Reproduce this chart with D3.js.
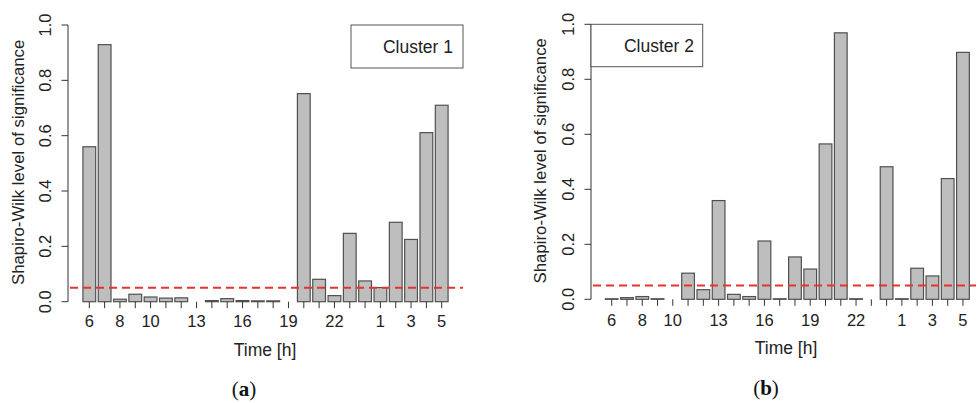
<!DOCTYPE html>
<html>
<head>
<meta charset="utf-8">
<script src="https://cdn.jsdelivr.net/npm/d3@7"></script>
<style>
  html, body { margin: 0; padding: 0; background: #fff; }
  svg { display: block; font-family: "Liberation Sans", Arial, sans-serif; }
</style>
</head>
<body>
<svg id="chart" width="977" height="403"></svg>
<script>
// ---- data ----
const hours = ["6","7","8","9","10","11","12","13","14","15","16","17","18","19","20","21","22","23","0","1","2","3","4","5"];
const cluster1Values = [0.560, 0.929, 0.009, 0.027, 0.017, 0.013, 0.014, null, 0.004, 0.011, 0.004, 0.003, 0.003, null,
                        0.752, 0.081, 0.022, 0.247, 0.075, 0.051, 0.287, 0.225, 0.611, 0.710];
const cluster2Values = [0.002, 0.006, 0.010, 0.002, null, 0.095, 0.035, 0.359, 0.018, 0.010, 0.212, 0.002, 0.154, 0.110,
                        0.565, 0.969, 0.002, null, 0.482, 0.002, 0.113, 0.085, 0.439, 0.898];
const xTickLabels = ["6","8","10","13","16","19","22","1","3","5"];
const yTicks = [0, 0.2, 0.4, 0.6, 0.8, 1.0];
const threshold = [0.05];
const legendLabels = ["Cluster 1", "Cluster 2"];
const panelLabels = ["a", "b"];

const svg = d3.select("#chart");

const panels = [
  { values: cluster1Values, legend: legendLabels[0], tag: panelLabels[0],
    axisX: 68, plotRight: 463, y0: 301.7, y1: 25, bandRange: [81.64, 449.36],
    legendBox: [351, 463, 25, 68], legendAnchor: "end", legendTextX: 453,
    yLabelX: 24, xTitleX: 265, xTitleY: 356, tickLabelY: 327, tagX: 244, tagY: 396 },
  { values: cluster2Values, legend: legendLabels[1], tag: panelLabels[1],
    axisX: 591, plotRight: 976, y0: 299.3, y1: 24.3, bandRange: [604.07, 970.6],
    legendBox: [591, 702.7, 24.3, 66.7], legendAnchor: "end", legendTextX: 694,
    yLabelX: 546, xTitleX: 786, xTitleY: 354, tickLabelY: 325.5, tagX: 766, tagY: 395 }
];

panels.forEach(p => {
  const g = svg.append("g");
  const x = d3.scaleBand().domain(hours).range(p.bandRange).paddingInner(1/6).paddingOuter(1/12);
  const y = d3.scaleLinear().domain([0, 1]).range([p.y0, p.y1]);
  const data = hours.map((h, i) => ({ h, v: p.values[i] }));

  // bars
  g.selectAll("rect.bar").data(data.filter(d => d.v !== null)).join("rect")
    .attr("class", "bar")
    .attr("x", d => x(d.h))
    .attr("y", d => y(d.v))
    .attr("width", x.bandwidth())
    .attr("height", d => y(0) - y(d.v))
    .attr("fill", "#bebebe")
    .attr("stroke", "#505050")
    .attr("stroke-width", 1.2);

  // x ticks (every bar), labels only for selected
  g.selectAll("line.xtick").data(hours).join("line")
    .attr("x1", d => x(d) + x.bandwidth() / 2)
    .attr("x2", d => x(d) + x.bandwidth() / 2)
    .attr("y1", y(0))
    .attr("y2", y(0) + 6.5)
    .attr("stroke", "#333").attr("stroke-width", 1);
  g.selectAll("text.xlab").data(xTickLabels).join("text")
    .attr("x", d => x(d) + x.bandwidth() / 2)
    .attr("y", p.tickLabelY)
    .attr("text-anchor", "middle")
    .attr("font-size", 16.5)
    .attr("fill", "#222")
    .text(d => d);

  // y axis
  g.append("line")
    .attr("x1", p.axisX).attr("x2", p.axisX)
    .attr("y1", y(0)).attr("y2", y(1))
    .attr("stroke", "#333").attr("stroke-width", 1);
  g.selectAll("line.ytick").data(yTicks).join("line")
    .attr("x1", p.axisX - 6.5).attr("x2", p.axisX)
    .attr("y1", d => y(d)).attr("y2", d => y(d))
    .attr("stroke", "#333").attr("stroke-width", 1);
  g.selectAll("text.ylab").data(yTicks).join("text")
    .attr("transform", d => `translate(${p.axisX - 17.5},${y(d)}) rotate(-90)`)
    .attr("text-anchor", "middle")
    .attr("font-size", 16.5)
    .attr("fill", "#222")
    .text(d => d3.format(".1f")(d));

  // y axis title
  g.append("text")
    .attr("transform", `translate(${p.yLabelX},${(y(0) + y(1)) / 2 - 1}) rotate(-90)`)
    .attr("text-anchor", "middle")
    .attr("font-size", 16.8)
    .attr("fill", "#222")
    .text("Shapiro-Wilk level of significance");

  // x axis title
  g.append("text")
    .attr("x", p.xTitleX).attr("y", p.xTitleY)
    .attr("text-anchor", "middle")
    .attr("font-size", 17.5)
    .attr("fill", "#222")
    .text("Time [h]");

  // threshold line
  g.selectAll("line.thr").data(threshold).join("line")
    .attr("x1", p.axisX + 2).attr("x2", p.plotRight)
    .attr("y1", d => y(d)).attr("y2", d => y(d))
    .attr("stroke", "#e8332d").attr("stroke-width", 2)
    .attr("stroke-dasharray", "8,5");

  // legend box
  const [lx0, lx1, ly0, ly1] = p.legendBox;
  g.append("rect")
    .attr("x", lx0).attr("y", ly0)
    .attr("width", lx1 - lx0).attr("height", ly1 - ly0)
    .attr("fill", "#fff").attr("stroke", "#555").attr("stroke-width", 1);
  g.append("text")
    .attr("x", p.legendTextX).attr("y", (ly0 + ly1) / 2 + 6)
    .attr("text-anchor", p.legendAnchor)
    .attr("font-size", 17.5)
    .attr("fill", "#222")
    .text(p.legend);

  // panel tag
  const t = g.append("text")
    .attr("x", p.tagX).attr("y", p.tagY)
    .attr("text-anchor", "middle")
    .attr("font-family", "'Liberation Serif', 'DejaVu Serif', serif")
    .attr("font-size", 21)
    .attr("fill", "#111");
  t.append("tspan").text("(");
  t.append("tspan").attr("font-weight", "bold").text(p.tag);
  t.append("tspan").text(")");
});
</script>
</body>
</html>
